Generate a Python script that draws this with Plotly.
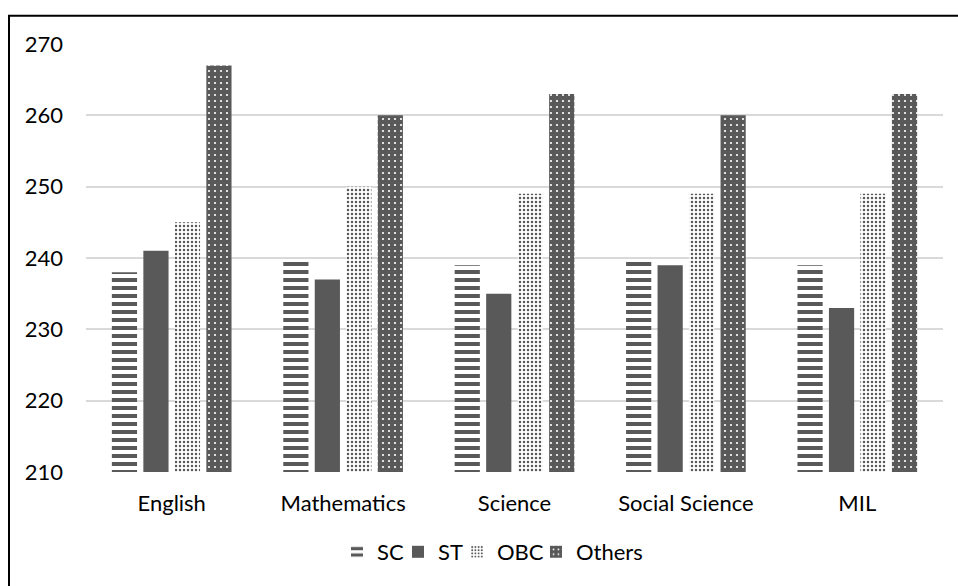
import plotly.graph_objects as go

# Subjects on the x axis
subjects = ["English", "Mathematics", "Science", "Social Science", "MIL"]

# Average scale scores by social group
sc_scores = [238, 239.7, 239, 239.7, 239]
st_scores = [241, 237, 235, 239, 233]
obc_scores = [245, 250, 249, 249, 249]
others_scores = [267, 260, 263, 260, 263]

y_ticks = [210, 220, 230, 240, 250, 260, 270]

W, H = 958, 586
ML, MR, MT, MB = 86, 15, 44, 114
FONT = dict(family="Lato, 'Open Sans', sans-serif", size=22, color="#000000")
DARK = "#595959"

plot_w = W - ML - MR
plot_h = H - MT - MB

# Each series gets its own one-item legend so the entries sit close together
legend_left_px = [337, 398, 457, 536]
legend_names = ["legend", "legend2", "legend3", "legend4"]

fig = go.Figure()

fig.add_trace(go.Bar(
    name="SC", x=subjects, y=sc_scores, legend=legend_names[0],
    marker=dict(color="white", line=dict(width=0),
                pattern=dict(shape="-", size=8, solidity=0.5, fgopacity=1,
                             fgcolor=DARK, bgcolor="white", fillmode="overlay")),
))
fig.add_trace(go.Bar(
    name="ST", x=subjects, y=st_scores, legend=legend_names[1],
    marker=dict(color=DARK, line=dict(width=0)),
))
fig.add_trace(go.Bar(
    name="OBC", x=subjects, y=obc_scores, legend=legend_names[2],
    marker=dict(color="white", line=dict(width=0),
                pattern=dict(shape=".", size=4, solidity=0.3, fgopacity=1,
                             fgcolor=DARK, bgcolor="white", fillmode="overlay")),
))
fig.add_trace(go.Bar(
    name="Others", x=subjects, y=others_scores, legend=legend_names[3],
    marker=dict(color=DARK, line=dict(width=0),
                pattern=dict(shape=".", size=6, solidity=0.11, fgopacity=1,
                             fgcolor="white", bgcolor=DARK, fillmode="overlay")),
))

# Outer frame (left and top edges visible)
fx0 = (9 - ML) / plot_w
fy1 = 1 + (MT - 15.7) / plot_h
fig.add_shape(type="rect", xref="paper", yref="paper",
              x0=fx0, x1=1.5, y0=-1.0, y1=fy1,
              line=dict(color="#000000", width=2), fillcolor="rgba(0,0,0,0)",
              layer="above")

legend_y = -(552 - MT - plot_h) / plot_h
legend_layout = {}
for name, left in zip(legend_names, legend_left_px):
    legend_layout[name] = dict(
        orientation="h", x=(left - ML) / plot_w, xanchor="left",
        y=legend_y, yanchor="middle", font=FONT, itemwidth=30,
        bgcolor="rgba(0,0,0,0)",
    )

fig.update_layout(
    width=W, height=H,
    margin=dict(l=ML, r=MR, t=MT, b=MB, autoexpand=False),
    paper_bgcolor="white", plot_bgcolor="white",
    font=FONT,
    barmode="group", bargap=0.265, bargroupgap=0.2,
    showlegend=True,
    **legend_layout,
)

fig.update_xaxes(
    showgrid=False, showline=False, zeroline=False, ticks="",
    tickfont=FONT, ticklabelstandoff=16,
)
fig.update_yaxes(
    range=[210, 270], tickvals=y_ticks, ticktext=[str(v) for v in y_ticks],
    showgrid=True, gridcolor="#d9d9d9", gridwidth=1.5,
    showline=False, zeroline=False, ticks="",
    tickfont=FONT, ticklabelstandoff=22,
)

fig.write_html("out.html")
